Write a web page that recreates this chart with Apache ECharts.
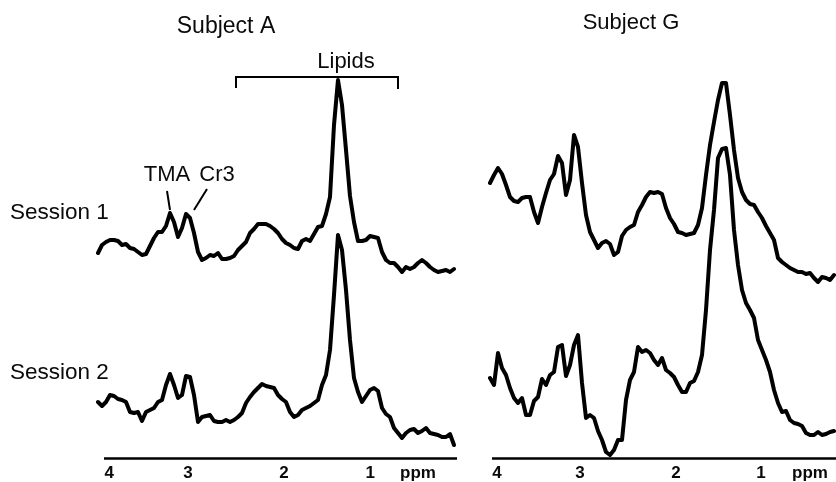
<!DOCTYPE html>
<html>
<head>
<meta charset="utf-8">
<style>html,body{margin:0;padding:0;background:#fff}#c{width:836px;height:482px}</style>
<script src="https://cdn.jsdelivr.net/npm/echarts@6/dist/echarts.min.js"></script>
</head>
<body>
<div id="c"></div>
<script>
// Spectra are sampled uniformly in ppm; intensities in arbitrary units (stacked offset included).
const subjectASession1 = [229,237,240,242,242,241,237,238,234,233,230,227,228,236,244,250,250,256,269,260,245,254,268,264,249,230,222,224,227,226,229,223,223,224,226,232,236,240,249,253,258,258,258,256,253,249,243,239,237,234,233,241,243,241,248,255,256,268,285,357,402,377,332,286,260,241,241,242,246,245,244,230,222,219,219,215,210,215,213,215,219,222,219,215,212,210,211,212,210,213];
const subjectASession2 = [80,76,80,87,86,83,82,80,70,69,70,61,70,72,74,80,82,97,108,97,84,87,106,105,87,60,65,66,67,61,60,60,62,60,62,65,69,79,85,90,94,98,96,95,94,87,83,80,70,65,67,72,74,76,79,82,97,107,132,187,247,232,192,142,104,90,80,86,92,94,91,74,68,65,54,49,44,49,52,53,49,51,54,49,48,47,45,45,48,37];
const subjectGSession1 = [299,307,314,308,297,285,281,280,284,285,285,270,259,275,289,302,308,326,319,287,302,347,335,299,267,250,242,234,239,241,238,227,230,246,252,255,257,270,277,285,290,289,290,288,274,264,258,250,249,247,248,249,257,274,307,337,360,382,399,399,367,332,304,290,282,278,277,270,264,256,249,242,224,220,217,214,212,210,210,208,209,204,200,205,204,202,207];
const subjectGSession2 = [104,97,129,114,107,94,84,79,84,67,67,81,85,103,97,107,110,135,137,106,117,137,147,99,64,67,64,51,42,30,27,32,42,42,82,102,110,135,130,132,129,122,117,124,112,109,105,97,90,90,99,101,110,127,172,232,272,324,333,334,307,252,217,192,179,172,164,142,132,122,110,92,79,70,71,62,59,58,56,49,47,47,50,47,48,50,51];

const ppmStartA = 4.138, ppmStepA = 0.045977;
const ppmStartG = 4.0795, ppmStepG = 0.045455;
const ppmRangeA = [0.0115, 4.138];
const ppmRangeG = [0.1477, 4.0795];
const intensityRange = [24, 482];

const tickPosA = [4.01, 3.103, 2, 1.01, 0.46];
const tickPosG = [4, 3.057, 1.966, 1, 0.443];
const tickLabels = ['4', '3', '2', '1', 'ppm'];

const toPairs = (vals, start, step) => vals.map((v, i) => [start - i * step, v]);
const font = '"Liberation Sans", Arial, sans-serif';
const INK = '#0a0a0a';

function xAxisFor(idx, range, ticks) {
  return {
    type: 'value', gridIndex: idx, inverse: true, min: range[0], max: range[1],
    splitLine: {show: false},
    axisLine: {show: false},
    axisTick: {show: false},
    axisLabel: {
      customValues: ticks, margin: 7, color: INK, fontFamily: font, fontSize: 17, fontWeight: 'bold',
      formatter: v => tickLabels[ticks.indexOf(v)]
    }
  };
}
function yAxisFor(idx) {
  return {type: 'value', gridIndex: idx, min: intensityRange[0], max: intensityRange[1], show: false, splitLine: {show: false}};
}
function spectrum(vals, start, step, idx) {
  return {
    type: 'line', xAxisIndex: idx, yAxisIndex: idx, data: toPairs(vals, start, step),
    showSymbol: false, clip: false, smooth: false, silent: true,
    lineStyle: {color: '#000', width: 4, join: 'round', cap: 'round'}
  };
}
function label(text, x, y, size, align) {
  return {type: 'text', x, y, silent: true, style: {text, fill: INK, font: (size || 22) + 'px ' + font, textAlign: align || 'center', textVerticalAlign: 'middle'}};
}
function stroke(shape, w) {
  return {type: 'line', silent: true, shape, style: {stroke: '#000', lineWidth: w || 2}};
}

const chart = echarts.init(document.getElementById('c'), null, {renderer: 'canvas'});
chart.setOption({
  animation: false,
  backgroundColor: '#fff',
  grid: [
    {left: 98, width: 359, top: 0, height: 458},
    {left: 490, width: 346, top: 0, height: 458}
  ],
  xAxis: [xAxisFor(0, ppmRangeA, tickPosA), xAxisFor(1, ppmRangeG, tickPosG)],
  yAxis: [yAxisFor(0), yAxisFor(1)],
  series: [
    spectrum(subjectASession1, ppmStartA, ppmStepA, 0),
    spectrum(subjectASession2, ppmStartA, ppmStepA, 0),
    spectrum(subjectGSession1, ppmStartG, ppmStepG, 1),
    spectrum(subjectGSession2, ppmStartG, ppmStepG, 1)
  ],
  graphic: [
    label('Subject A', 226, 27, 23),
    label('Subject G', 631, 23),
    label('Lipids', 346, 62),
    label('TMA', 167, 175, 22),
    label('Cr3', 217, 175, 22),
    label('Session 1', 10, 213, 22.5, 'left'),
    label('Session 2', 10, 373, 22.5, 'left'),
    stroke({x1: 236, y1: 88, x2: 236, y2: 77}),
    stroke({x1: 235, y1: 77, x2: 399, y2: 77}),
    stroke({x1: 398, y1: 77, x2: 398, y2: 89}),
    stroke({x1: 167, y1: 191, x2: 170, y2: 210}),
    stroke({x1: 207, y1: 189, x2: 194, y2: 210}),
    stroke({x1: 104, y1: 458.5, x2: 457, y2: 458.5}, 2.4),
    stroke({x1: 492, y1: 458.5, x2: 836, y2: 458.5}, 2.4)
  ]
});
</script>
</body>
</html>
